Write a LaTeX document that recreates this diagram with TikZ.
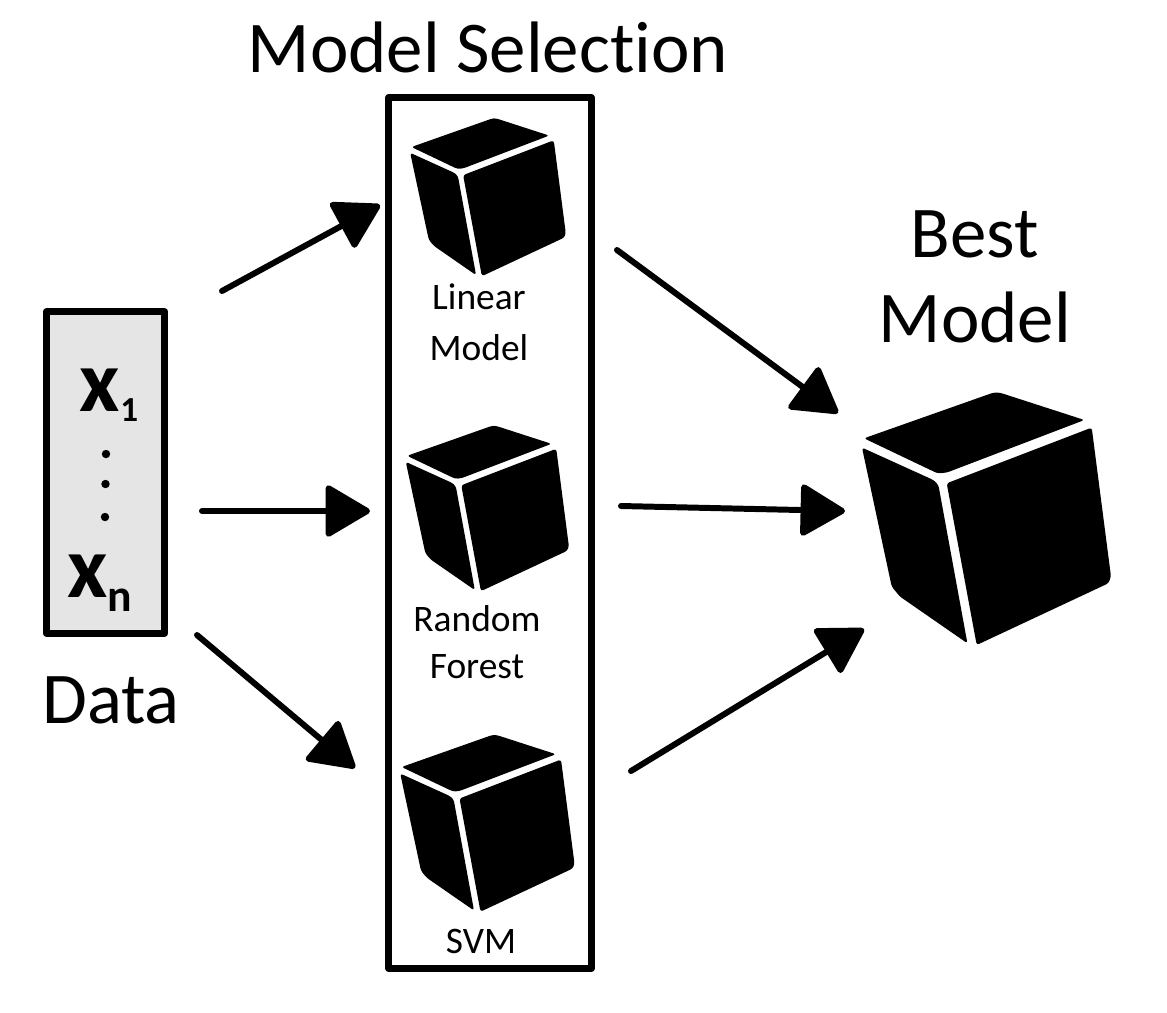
\documentclass[tikz,border=0pt]{standalone}
\usepackage{fontspec}
\setmainfont[Ligatures=NoCommon]{Carlito}
\usetikzlibrary{arrows.meta}

\tikzset{
	flow/.style={line width=3.4pt, line cap=round, -{Triangle[length=27pt, width=31pt, round]}},
	framebox/.style={draw, line width=3.8pt, line join=round, inner sep=0pt},
	bigtext/.style={font=\fontsize{41.5}{48}\selectfont, align=center, inner sep=0pt},
	smalltext/.style={font=\fontsize{21.3}{28}\selectfont, align=center, inner sep=0pt},
	handtext/.style={font=\fontsize{50}{50}\bfseries\selectfont, inner sep=0pt},
	handdot/.style={circle, fill, minimum size=4.8pt, inner sep=0pt},
	modelcube/.pic={
		\fill[rounded corners=1.5pt] (-77.7,-40) -- (51.7,-85.7) -- (58,-85.7) -- (142.7,-58.3) -- (5,-5.7) -- (-4.3,-5) -- cycle; % top
		\fill[rounded corners=1.5pt] (-79.7,-30.7) -- (-8.3,1.7) -- (-3.3,6.7) -- (25.7,165) -- (-41.7,118.3) -- (-50,108.3) -- cycle; % left
		\fill[rounded corners=1.5pt] (5,5) -- (150,-50.7) -- (169.3,98.3) -- (166.7,105) -- (35,166.7) -- cycle; % right
	}
}

\begin{document}
\begin{tikzpicture}[x=0.02cm, y=-0.02cm]
	\useasboundingbox (0,0) rectangle (1167,1012);
	\begin{scope}
		% data
		\node[framebox, fill=black!10, minimum width=67.5pt, minimum height=183pt] (data) at (105.5,472.5) {};
		\node[handtext] (xfirst) at (109,395) {x\raisebox{-6pt}{\fontsize{20}{20}\selectfont 1}};
		\node[handtext] (xlast) at (100,583) {x\raisebox{-8pt}{\fontsize{26}{26}\selectfont n}};
		\node[handdot] (dota) at (106,454) {};
		\node[handdot] (dotb) at (105.5,484) {};
		\node[handdot] (dotc) at (105,517) {};
		\node[bigtext] (datalabel) at (111,700) {Data};

		% model selection
		\node[framebox, minimum width=115.5pt, minimum height=495.5pt] (selection) at (490,533) {};
		\node[bigtext] (selectionlabel) at (488,47) {Model Selection};
		\pic[scale=0.625] (cubelinear) at (460,172) {modelcube};
		\pic[scale=0.655] (cubeforest) at (458,482) {modelcube};
		\pic[scale=0.7] (cubesvm) at (456,795) {modelcube};
		\node[smalltext, font=\fontsize{21.3}{29}\selectfont] (linearlabel) at (479,322) {Linear\\Model};
		\node[smalltext, font=\fontsize{21.3}{27}\selectfont] (forestlabel) at (477,642) {Random\\Forest};
		\node[smalltext] (svmlabel) at (481,941) {SVM};

		% best model
		\pic (cubebest) at (941.7,478.3) {modelcube};
		\node[bigtext] (bestlabel) at (975,277) {Best\\Model};

		% free ends of the arrows
		\coordinate (dataup) at (222,291);
		\coordinate (datamid) at (202,511);
		\coordinate (datadown) at (197,635);
		\coordinate (linearin) at (380,205);
		\coordinate (forestin) at (370,511);
		\coordinate (svmin) at (355,768);
		\coordinate (linearout) at (617,250);
		\coordinate (forestout) at (621,506);
		\coordinate (svmout) at (631,771);
		\coordinate (bestup) at (838,413);
		\coordinate (bestmid) at (845,511);
		\coordinate (bestdown) at (864,629);

		\draw[flow] (dataup) -- (linearin);
		\draw[flow] (datamid) -- (forestin);
		\draw[flow] (datadown) -- (svmin);
		\draw[flow] (linearout) -- (bestup);
		\draw[flow] (forestout) -- (bestmid);
		\draw[flow] (svmout) -- (bestdown);
	\end{scope}
\end{tikzpicture}
\end{document}
